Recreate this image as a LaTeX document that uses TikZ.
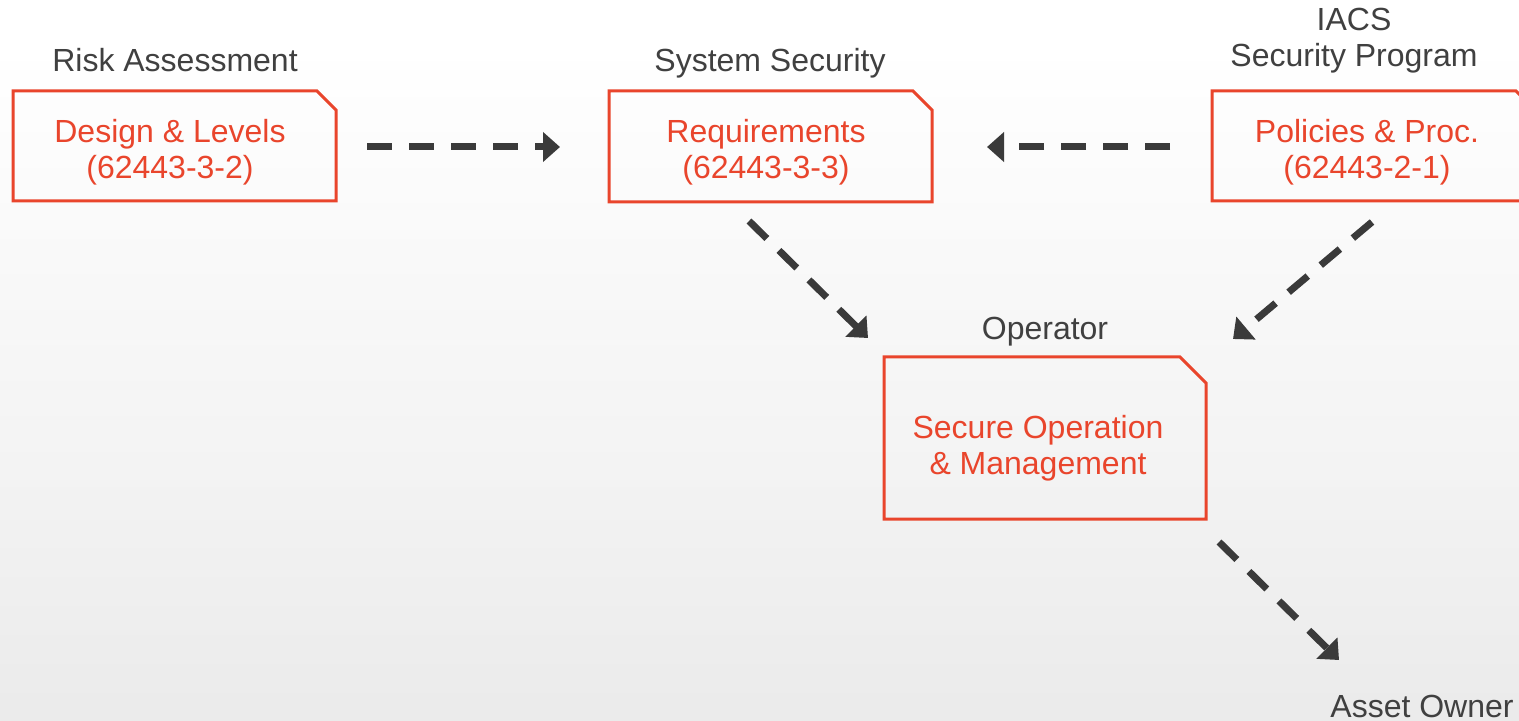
\documentclass[tikz,border=0pt]{standalone}
\usepackage{fontspec}
\setmainfont{Liberation Sans}
\usetikzlibrary{arrows.meta}

\definecolor{accent}{RGB}{233,69,44}
\definecolor{labelgray}{RGB}{64,64,64}
\definecolor{arrowgray}{RGB}{58,58,58}
\definecolor{bgmid}{RGB}{242,242,242}
\definecolor{bgbot}{RGB}{222,222,222}
\pgfdeclareverticalshading{bgfade}{100bp}{color(0bp)=(bgbot); color(40bp)=(bgmid); color(72bp)=(white); color(100bp)=(white)}

% multi-line nodes sit on the baseline of their last line
\tikzset{
  heading/.style={text=labelgray, font=\fontsize{16}{18}\selectfont, align=center, anchor=base, inner sep=0pt},
  boxtext/.style={text=accent, font=\fontsize{16}{18}\selectfont, align=center, anchor=base, inner sep=0pt},
  cutbox/.style={draw=accent, line width=1.5pt, line join=miter},
  flow/.style={draw=arrowgray, line width=3.5pt, dash pattern=on 12.5pt off 8.5pt,
    -{Triangle[length=8.5pt,width=14.5pt]}},
}

\begin{document}
\begin{tikzpicture}[x=0.5pt,y=-0.5pt]
  % canvas and soft background fade
  \clip (0,0) rectangle (1519,721);
  \shade[shading=bgfade] (0,0) rectangle (1519,721);

  % chamfered boxes
  \draw[cutbox] (13,91) -- (317,91) -- (336,110) -- (336,201) -- (13,201) -- cycle;
  \draw[cutbox] (609,91) -- (913,91) -- (932,110) -- (932,202) -- (609,202) -- cycle;
  \draw[cutbox] (1212,91) -- (1516,91) -- (1536,111) -- (1536,201) -- (1212,201) -- cycle;
  \draw[cutbox] (884,357) -- (1180,357) -- (1206,383) -- (1206,519) -- (884,519) -- cycle;

  % headings
  \node[heading] (risk) at (175,72) {Risk Assessment};
  \node[heading] (syssec) at (770,72) {System Security};
  \node[heading] (iacs) at (1354,67) {IACS\\Security Program};
  \node[heading] (operator) at (1045,340) {Operator};
  \node[heading] (owner) at (1422,717) {Asset Owner};

  % box contents
  \node[boxtext] (design) at (170,179) {Design \& Levels\\(62443-3-2)};
  \node[boxtext] (reqs) at (766,179) {Requirements\\(62443-3-3)};
  \node[boxtext] (policies) at (1367,179) {Policies \& Proc.\\(62443-2-1)};
  \node[boxtext] (secop) at (1038,474) {Secure Operation\\\& Management};

  % connector end points
  \coordinate (a1s) at (367,147);  \coordinate (a1e) at (560,147);
  \coordinate (a2s) at (1170,147); \coordinate (a2e) at (987,147);
  \coordinate (a3s) at (749,221);  \coordinate (a3e) at (868,338);
  \coordinate (a4s) at (1372,222); \coordinate (a4e) at (1233,339);
  \coordinate (a5s) at (1219,542); \coordinate (a5e) at (1339,660);

  % dashed flow arrows
  \draw[flow] (a1s) -- (a1e);
  \draw[flow] (a2s) -- (a2e);
  \draw[flow] (a3s) -- (a3e);
  \draw[flow] (a4s) -- (a4e);
  \draw[flow] (a5s) -- (a5e);
\end{tikzpicture}
\end{document}
